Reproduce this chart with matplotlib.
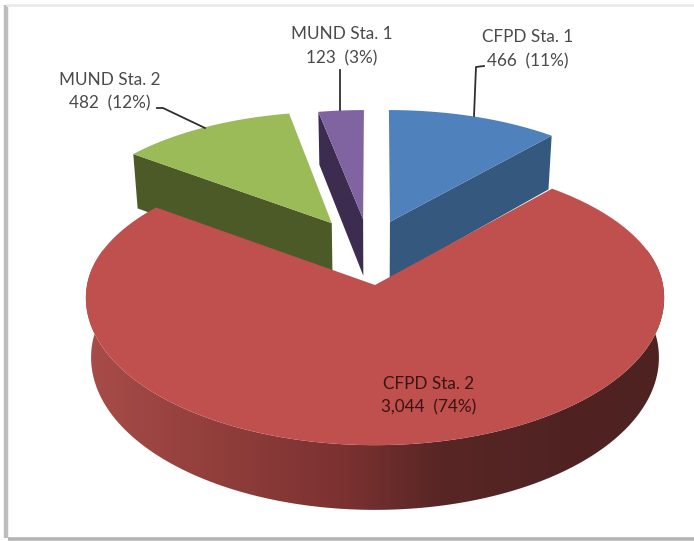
import numpy as np
import matplotlib
matplotlib.use('Agg')
import matplotlib.pyplot as plt
from matplotlib.patches import Polygon

# data
stations = ["CFPD Sta. 1", "CFPD Sta. 2", "MUND Sta. 2", "MUND Sta. 1"]
counts = [466, 3044, 482, 123]
percents = [11, 74, 12, 3]

top_colors = ["#4F81BD", "#C0504D", "#9BBB59", "#8064A2"]
wall_colors = ["#35587F", "#7A3230", "#4B5A27", "#3B2C50"]

# pixel layout of the fake 3d pie
CX, CY = 375, 285
RX, RY = 288, 146
PERSP = 0.0884
DEPTH = 59
SHRINK = 0.982
# offset on the pie plane and radius of each slice
offsets = [(0.054, 0.45), (0, 0), (-0.156, 0.44), (-0.043, 0.47)]
radii_x = [0.95, 1.0, 0.947, 0.947]
radii_y = [0.89, 1.0, 0.886, 0.87]
back_squash = [1, 0.925, 1, 1]


def project(px, py, bottom=False):
    s = 1 / (1 + PERSP * py)
    x = RX * px * s
    y = CY - RY * py * s
    if bottom:
        return CX + x * SHRINK, y + DEPTH * s
    return CX + x, y


def rim(i, a0, a1, bottom=False, n=160):
    t = np.radians(np.linspace(a0, a1, n))
    c = np.cos(t)
    c = np.where(c > 0, c * back_squash[i], c)
    return project(offsets[i][0] + radii_x[i] * np.sin(t),
                   offsets[i][1] + radii_y[i] * c, bottom)


def apex(i, bottom=False):
    return project(offsets[i][0], offsets[i][1], bottom)


def top_face(ax, i, a0, a1, z):
    x, y = rim(i, a0, a1)
    ax0, ay0 = apex(i)
    pts = np.column_stack([np.r_[ax0, x], np.r_[ay0, y]])
    ax.add_patch(Polygon(pts, closed=True, fc=top_colors[i], ec='none', zorder=z))


def cut_face(ax, i, angle, z):
    # radial wall going from the centre of the slice to its rim
    x, y = rim(i, angle, angle, n=1)
    xb, yb = rim(i, angle, angle, bottom=True, n=1)
    ax0, ay0 = apex(i)
    ax1, ay1 = apex(i, bottom=True)
    pts = [(ax0, ay0), (x[0], y[0]), (xb[0], yb[0]), (ax1, ay1)]
    ax.add_patch(Polygon(pts, closed=True, fc=wall_colors[i], ec='none', zorder=z))


fig = plt.figure(figsize=(6.94, 5.41), dpi=100, facecolor='white')
ax = fig.add_axes([0, 0, 1, 1])
ax.set_xlim(0, 694)
ax.set_ylim(541, 0)
ax.axis('off')
plt.rcParams['font.family'] = ['Lato', 'DejaVu Sans']

# frame shadow
ax.plot([6.5, 6.5], [5, 538], color='#BEBEBE', lw=3.2, solid_capstyle='butt', zorder=1)
ax.plot([8, 694], [538.5, 538.5], color='#B4B4B4', lw=2.6, solid_capstyle='butt', zorder=1)
ax.plot([6, 694], [4.5, 4.5], color='#EAEAEA', lw=2, solid_capstyle='butt', zorder=1)

angles = 360 * np.cumsum([0] + counts) / sum(counts)

# back slices first, the big one goes over them
cut_face(ax, 0, angles[1], 2)
top_face(ax, 0, angles[0], angles[1], 3)
cut_face(ax, 3, angles[3], 2)
top_face(ax, 3, angles[3], angles[4], 3)
cut_face(ax, 2, angles[2], 2)
top_face(ax, 2, angles[2], angles[3], 3)

# outer wall of the red slice with a left to right shading
xt, yt = rim(1, 70, 290)
xb, yb = rim(1, 70, 290, bottom=True)
wall = Polygon(np.column_stack([np.r_[xt, xb[::-1]], np.r_[yt, yb[::-1]]]),
               closed=True, fc='none', ec='none', transform=ax.transData)
ax.add_patch(wall)
stops_x = [85, 200, 347, 440, 560, 670]
stops_rgb = np.array([[0xA8, 0x4C, 0x49], [0x94, 0x40, 0x3D], [0x7A, 0x31, 0x30],
                      [0x58, 0x26, 0x25], [0x50, 0x23, 0x22], [0x4E, 0x22, 0x21]]) / 255
px = np.arange(85, 671)
grad = np.stack([np.interp(px, stops_x, stops_rgb[:, c]) for c in range(3)], axis=-1)[None, :, :]
im = ax.imshow(grad, extent=(85, 671, 520, 250), aspect='auto', zorder=4)
im.set_clip_path(wall)
ax.set_xlim(0, 694)
ax.set_ylim(541, 0)
top_face(ax, 1, angles[1], angles[2], 5)

# leader lines
line_color = '#2F2F2F'
ax.plot([484, 476, 474], [66, 67, 116], color=line_color, lw=1.3, zorder=6)
ax.plot([340, 340], [70, 110], color=line_color, lw=1.3, zorder=6)
ax.plot([157, 163, 205], [108, 108, 128], color=line_color, lw=1.3, zorder=6)

# labels
label_pos = [(528, 37, 61), (429, 384, 407), (110, 80, 103), (342, 34, 58)]
label_colors = ['#4A4A4A', '#3A1414', '#4A4A4A', '#4A4A4A']
for name, n, pct, (x, y0, y1), col in zip(stations, counts, percents, label_pos, label_colors):
    ax.text(x, y0, name, ha='center', va='center', fontsize=12.3, color=col, zorder=7)
    ax.text(x, y1, f"{n:,}  ({pct}%)", ha='center', va='center', fontsize=12.3, color=col, zorder=7)

fig.savefig('out.png', dpi=100)
